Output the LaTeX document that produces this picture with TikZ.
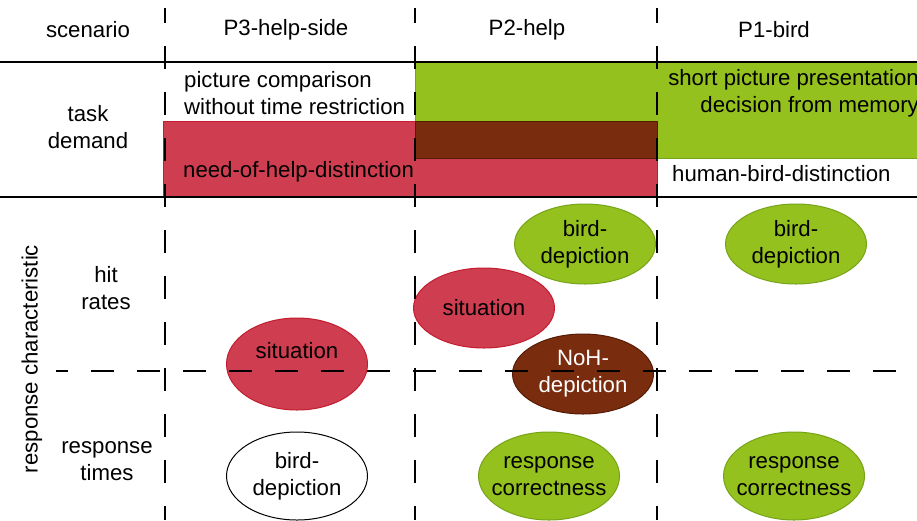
\documentclass[tikz,border=0pt]{standalone}
\usepackage{fontspec}
\setmainfont{Liberation Sans}
\usetikzlibrary{shapes.geometric}
\definecolor{grn}{RGB}{149,193,31}
\definecolor{grnd}{RGB}{118,163,24}
\definecolor{rd}{RGB}{207,62,80}
\definecolor{rdd}{RGB}{196,28,48}
\definecolor{brn}{RGB}{122,45,14}
\definecolor{brnd}{RGB}{85,28,6}
\begin{document}
\begin{tikzpicture}[x=1pt,y=-1pt,
  txt/.style={font=\fontsize{22.2}{26.8}\selectfont, inner sep=0pt, align=center},
  ellbox/.style={ellipse, minimum width=141pt, minimum height=80pt, inner xsep=-20pt, inner ysep=-10pt,
    line width=1pt, align=center, font=\fontsize{22.2}{26.8}\selectfont},
  redell/.style={ellbox, fill=rd, draw=rdd},
  grnell/.style={ellbox, fill=grn, draw=grnd},
  vdash/.style={line width=1.5pt, dash pattern=on 23pt off 23pt, dash phase=8pt},
  hdash/.style={line width=1.5pt, dash pattern=on 23pt off 23pt, dash phase=11pt},
  solidline/.style={line width=1.3pt}
]
\useasboundingbox (0,0) rectangle (917,520);
\fill[white] (0,0) rectangle (917,520);

% colored task-demand bands
\draw[fill=rd, draw=rdd, line width=0.8pt] (163,121) rectangle (657,197);
\draw[fill=grn, draw=grnd, line width=0.8pt] (415,62) rectangle (925,158);
\draw[fill=brn, draw=brnd, line width=0.8pt] (415,121) rectangle (657,158);

% ellipses
\node[redell, minimum height=92pt] (s3) at (297,364) {};
\node[txt] (s3t) at (297,351) {situation};
\node[ellbox, draw=black, fill=white, minimum height=88pt] (b3) at (297,476) {bird-\\depiction};
\node[grnell] (b2) at (585,244) {bird-\\depiction};
\node[grnell] (b1) at (796,244) {bird-\\depiction};
\node[redell] (s2) at (484,308) {situation};
\node[ellbox, fill=brn, draw=brnd, text=white] (n2) at (583,374) {NoH-\\depiction};
\node[grnell, minimum height=88pt] (r2) at (549,476) {response\\correctness};
\node[grnell, minimum height=88pt] (r1) at (794,476) {response\\correctness};

% grid lines
\coordinate (hl0) at (0,62);
\coordinate (hr0) at (917,62);
\coordinate (hl1) at (0,197);
\coordinate (hr1) at (917,197);
\coordinate (dl) at (56,371);
\coordinate (dr) at (917,371);
\coordinate (v1t) at (165,8);
\coordinate (v1b) at (165,520);
\coordinate (v2t) at (415,8);
\coordinate (v2b) at (415,520);
\coordinate (v3t) at (657,8);
\coordinate (v3b) at (657,520);
\draw[solidline] (hl0) -- (hr0);
\draw[solidline] (hl1) -- (hr1);
\draw[hdash] (dl) -- (dr);
\draw[vdash] (v1t) -- (v1b);
\draw[vdash] (v2t) -- (v2b);
\draw[vdash] (v3t) -- (v3b);

% header texts
\node[txt] (scen) at (88,30) {scenario};
\node[txt] (p3) at (286,30) {P3-help-side};
\node[txt] (p2) at (527,30) {P2-help};
\node[txt] (p1) at (774,30) {P1-bird};

% row labels
\node[txt] (td) at (88,127) {task\\demand};
\node[txt] (hr) at (106,288) {hit\\rates};
\node[txt] (rt) at (107,461) {response\\times};
\node[txt, rotate=90] (rc) at (32,359) {response characteristic};

% task demand texts
\node[txt, anchor=west, align=left] (pc) at (184,93) {picture comparison\\without time restriction};
\node[txt, anchor=west] (nh) at (183,172) {need-of-help-distinction};
\node[txt, anchor=east, align=right] (sp) at (919,93) {short picture presentation\\decision from memory};
\node[txt, anchor=west] (hb) at (672,174) {human-bird-distinction};
\end{tikzpicture}
\end{document}
